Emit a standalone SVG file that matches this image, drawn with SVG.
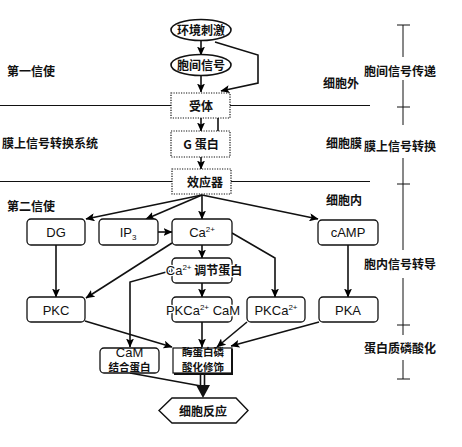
<svg xmlns="http://www.w3.org/2000/svg" width="462" height="447" viewBox="0 0 462 447">
<defs>
<marker id="ah" markerWidth="9" markerHeight="8" refX="8.5" refY="4" orient="auto" markerUnits="userSpaceOnUse">
<path d="M0,0 L9,4 L0,8 L2,4 z" fill="#000"/>
</marker>
<style>
.cn{font-family:"Noto Sans CJK SC","Liberation Sans",sans-serif;font-size:12px;font-weight:bold;fill:#111;}
.lt{font-family:"Liberation Sans","Noto Sans CJK SC",sans-serif;font-size:13px;font-weight:normal;fill:#111;}
.sm{font-size:10.5px;}
.sup{font-size:8px;}
.rb{fill:#fff;stroke:#111;stroke-width:1.3;}
.db{fill:#fff;stroke:#111;stroke-width:1.2;stroke-dasharray:1.2 1.3;}
.ln{fill:none;stroke:#111;stroke-width:1.6;}
.ar{fill:none;stroke:#111;stroke-width:1.6;marker-end:url(#ah);}
.th{fill:none;stroke:#111;stroke-width:1;}
</style>
</defs>
<rect width="462" height="447" fill="#fff"/>

<g id="boundaries">
<line class="th" x1="0" y1="105.5" x2="171" y2="105.5"/>
<line class="th" x1="230" y1="105.5" x2="370" y2="105.5"/>
<line class="th" x1="0" y1="181.5" x2="172" y2="181.5"/>
<line class="th" x1="231" y1="181.5" x2="370" y2="181.5"/>
</g>

<g id="labels">
<text class="cn" x="7" y="75.5">第一信使</text>
<text class="cn" x="2" y="147.5">膜上信号转换系统</text>
<text class="cn" x="7" y="210.5">第二信使</text>
<text class="cn" x="323" y="87.5">细胞外</text>
<text class="cn" x="326" y="147.5">细胞膜</text>
<text class="cn" x="326" y="204.5">细胞内</text>
</g>

<g id="scale">
<line class="th" x1="403" y1="25" x2="403" y2="57"/>
<line class="th" x1="397" y1="25" x2="410" y2="25"/>
<text class="cn" x="400" y="75.5" text-anchor="middle">胞间信号传递</text>
<line class="th" x1="403" y1="80" x2="403" y2="125"/>
<line class="th" x1="397" y1="107" x2="410" y2="107"/>
<text class="cn" x="400" y="150.5" text-anchor="middle">膜上信号转换</text>
<line class="th" x1="403" y1="158" x2="403" y2="250"/>
<line class="th" x1="397" y1="184" x2="410" y2="184"/>
<text class="cn" x="400" y="268.5" text-anchor="middle">胞内信号转导</text>
<line class="th" x1="403" y1="278" x2="403" y2="335"/>
<line class="th" x1="397" y1="325" x2="410" y2="325"/>
<text class="cn" x="400" y="352.5" text-anchor="middle">蛋白质磷酸化</text>
<line class="th" x1="403" y1="360" x2="403" y2="379"/>
<line class="th" x1="397" y1="379" x2="410" y2="379"/>
</g>

<g id="connectors">
<line class="ar" x1="201" y1="40" x2="201" y2="55"/>
<line class="ar" x1="201" y1="75" x2="201" y2="92"/>
<polyline class="ar" points="215,42 258,55 258,83 221,91"/>
<line class="ar" x1="201" y1="118" x2="201" y2="131"/>
<line class="ln" x1="218" y1="118" x2="218" y2="131" stroke-width="1.2"/>
<line class="ar" x1="201" y1="157" x2="201" y2="169"/>
<line class="ar" x1="202" y1="195" x2="86" y2="219"/>
<line class="ar" x1="202" y1="195" x2="146" y2="219"/>
<line class="ar" x1="202" y1="195" x2="202" y2="219"/>
<line class="ar" x1="202" y1="195" x2="318" y2="219"/>
<line class="ar" x1="158" y1="232" x2="172" y2="232"/>
<line class="ar" x1="56" y1="245" x2="56" y2="297"/>
<line class="ar" x1="172" y1="243" x2="86" y2="298"/>
<line class="ar" x1="202" y1="245" x2="202" y2="258"/>
<polyline class="ar" points="232,233 275,258 275,297"/>
<line class="ar" x1="348" y1="245" x2="348" y2="297"/>
<line class="ar" x1="202" y1="283" x2="202" y2="297"/>
<polyline class="ar" points="170,271 130,282 130,347"/>
<line class="ar" x1="85" y1="321" x2="172" y2="347"/>
<line class="ar" x1="202" y1="322" x2="202" y2="347"/>
<line class="ar" x1="247" y1="322" x2="217" y2="347"/>
<line class="ar" x1="319" y1="322" x2="231" y2="346"/>
<line class="ln" x1="130" y1="373" x2="201" y2="386"/>
<line class="ln" x1="200.5" y1="373" x2="200.5" y2="387" stroke-width="1.3"/>
<line class="ln" x1="204.5" y1="373" x2="204.5" y2="387" stroke-width="1.3"/>
<polygon points="196,385 210,385 203,398" fill="#111"/>
</g>

<g id="n-env">
<ellipse cx="201" cy="30" rx="30" ry="10.5" fill="#fff" stroke="#111" stroke-width="1.6"/>
<text class="cn" x="201" y="35" font-size="13" text-anchor="middle">环境刺激</text>
</g>
<g id="n-intercell">
<ellipse cx="201" cy="65" rx="30" ry="10.5" fill="#fff" stroke="#111" stroke-width="1.6"/>
<text class="cn" x="201" y="70" font-size="13" text-anchor="middle">胞间信号</text>
</g>
<g id="n-receptor">
<rect class="db" x="171" y="93" width="59" height="25"/>
<text class="cn" x="201" y="110.5" text-anchor="middle">受体</text>
</g>
<g id="n-gprotein">
<rect class="db" x="171" y="131" width="59" height="26"/>
<text class="cn" x="201" y="148.5" text-anchor="middle">G 蛋白</text>
</g>
<g id="n-effector">
<rect class="db" x="172" y="169" width="59" height="25"/>
<text class="cn" x="205" y="186.5" text-anchor="middle">效应器</text>
</g>
<g id="n-dg">
<rect class="rb" x="27" y="219" width="58" height="26" rx="4"/>
<text class="lt" x="56" y="237" text-anchor="middle">DG</text>
</g>
<g id="n-ip3">
<rect class="rb" x="99" y="219" width="59" height="26" rx="4"/>
<text class="lt" x="128" y="237" text-anchor="middle">IP<tspan class="sup" dy="3">3</tspan></text>
</g>
<g id="n-ca">
<rect class="rb" x="172" y="219" width="60" height="26" rx="4"/>
<text class="lt" x="202" y="237" text-anchor="middle">Ca<tspan class="sup" dy="-5">2+</tspan></text>
</g>
<g id="n-camp">
<rect class="rb" x="318" y="220" width="60" height="25" rx="4"/>
<text class="lt" x="348" y="237" text-anchor="middle">cAMP</text>
</g>
<g id="n-careg">
<rect class="rb" x="172" y="258" width="60" height="25" rx="4"/>
<text class="lt" x="204" y="275" text-anchor="middle" stroke="#fff" stroke-width="2.5" paint-order="stroke">Ca<tspan class="sup" dy="-5">2+</tspan><tspan class="cn" dy="5" font-size="12.5" stroke="#fff"> 调节蛋白</tspan></text>
</g>
<g id="n-pkc">
<rect class="rb" x="27" y="297" width="58" height="25" rx="4"/>
<text class="lt" x="56" y="314.5" text-anchor="middle">PKC</text>
</g>
<g id="n-pkcacam">
<rect class="rb" x="172" y="297" width="60" height="25" rx="4"/>
<text class="lt" x="203" y="314.5" text-anchor="middle" stroke="#fff" stroke-width="2.5" paint-order="stroke">PKCa<tspan class="sup" dy="-5">2+</tspan><tspan dy="5"> CaM</tspan></text>
</g>
<g id="n-pkca">
<rect class="rb" x="247" y="297" width="58" height="25" rx="4"/>
<text class="lt" x="276" y="314.5" text-anchor="middle">PKCa<tspan class="sup" dy="-5">2+</tspan></text>
</g>
<g id="n-pka">
<rect class="rb" x="319" y="297" width="59" height="25" rx="4"/>
<text class="lt" x="348" y="314.5" text-anchor="middle">PKA</text>
</g>
<g id="n-cambp">
<rect class="rb" x="100" y="348" width="59" height="25" rx="4"/>
<text class="lt" x="129.5" y="356.5" font-size="11" text-anchor="middle">CaM</text>
<text class="cn sm" x="129.5" y="371.2" text-anchor="middle">结合蛋白</text>
</g>
<g id="n-enzyme">
<rect x="173" y="348" width="59" height="25" fill="#fff" stroke="#111" stroke-width="1.2"/>
<polyline points="232,349 232,374 174,374" fill="none" stroke="#111" stroke-width="2"/>
<text class="cn sm" x="203" y="355.5" text-anchor="middle">酶蛋白磷</text>
<text class="cn sm" x="203" y="370.8" text-anchor="middle">酸化修饰</text>
</g>
<g id="n-response">
<polygon points="159,410.5 172,398 236,398 248,410.5 236,423 172,423" fill="#fff" stroke="#111" stroke-width="1.4"/>
<text class="cn" x="203" y="415.5" text-anchor="middle">细胞反应</text>
</g>
</svg>
